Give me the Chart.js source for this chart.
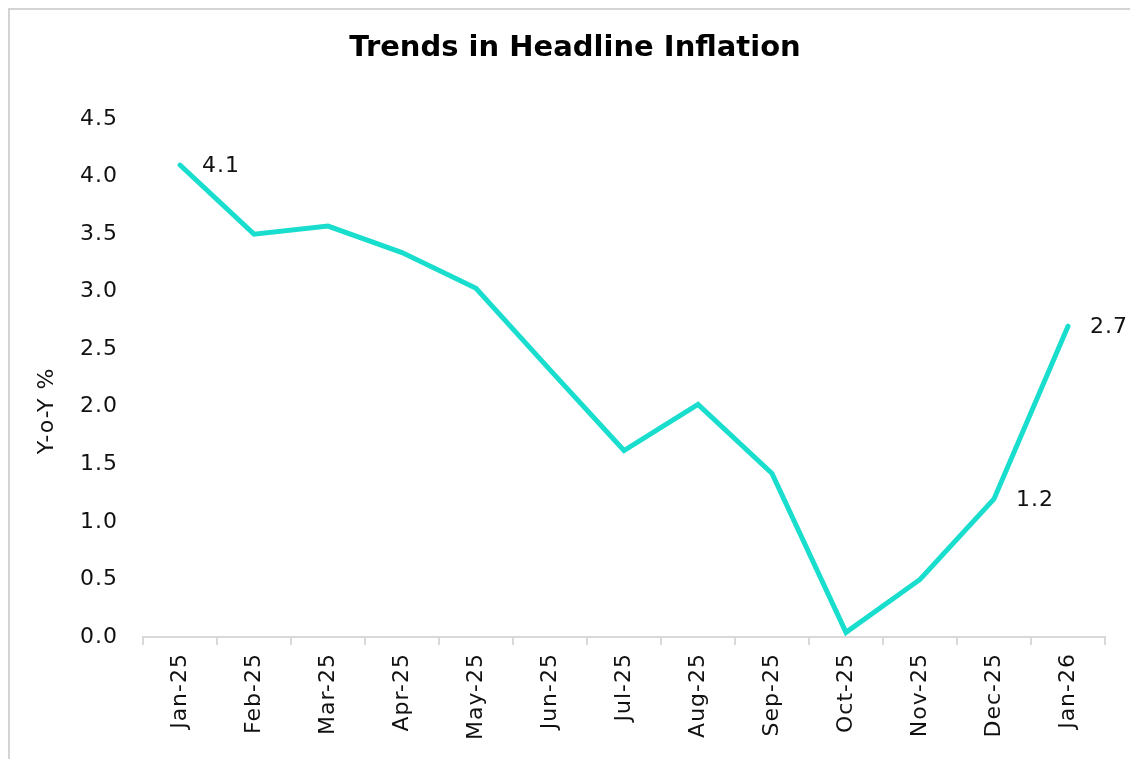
<!DOCTYPE html>
<html>
<head>
<meta charset="utf-8">
<script src="https://cdn.jsdelivr.net/npm/chart.js@4"></script>
<style>
  html, body { margin: 0; padding: 0; background: #fff; }
  #wrap { width: 1130px; height: 759px; position: relative; }
</style>
</head>
<body>
<div id="wrap"><canvas id="inflationChart"></canvas></div>
<script>
// headline inflation, y-o-y %
const months = ["Jan-25", "Feb-25", "Mar-25", "Apr-25", "May-25", "Jun-25", "Jul-25",
                "Aug-25", "Sep-25", "Oct-25", "Nov-25", "Dec-25", "Jan-26"];
const inflation = [4.1, 3.5, 3.57, 3.34, 3.03, 2.32, 1.62, 2.02, 1.42, 0.04, 0.5, 1.2, 2.7];
const labelledMonths = ["Jan-25", "Dec-25", "Jan-26"];
const yTicks = [0, 0.5, 1, 1.5, 2, 2.5, 3, 3.5, 4, 4.5];

const FONT = "'DejaVu Sans', 'Noto Sans', sans-serif";

// outer frame line + a little letter spacing for axis text
const framePlugin = {
    id: "frame",
    beforeDraw(chart) {
        const c = chart.ctx;
        c.letterSpacing = "1px";
        c.save();
        c.strokeStyle = "#d4d4d4";
        c.lineWidth = 2;
        c.strokeRect(9, 9, chart.width + 20, chart.height + 20);
        c.restore();
    }
};

// chart title and y axis title
const titles = {
    id: "titles",
    afterDraw(chart) {
        const c = chart.ctx;
        c.save();
        c.letterSpacing = "0px";
        c.font = "bold 29px " + FONT;
        c.fillStyle = "#000";
        c.textAlign = "center";
        c.textBaseline = "middle";
        c.fillText("Trends in Headline Inflation", 575, 48);

        c.letterSpacing = "1px";
        c.translate(47, 411);
        c.rotate(-Math.PI / 2);
        c.font = "22px " + FONT;
        c.fillStyle = "#111";
        c.fillText("Y-o-Y %", 0, 0);
        c.restore();
    }
};

// value labels to the right of selected points
const pointLabels = {
    id: "pointLabels",
    afterDatasetsDraw(chart) {
        const c = chart.ctx;
        const meta = chart.getDatasetMeta(0);
        c.save();
        c.font = "22px " + FONT;
        c.fillStyle = "#111";
        c.textAlign = "left";
        c.textBaseline = "middle";
        meta.data.forEach((pt, i) => {
            if (!labelledMonths.includes(months[i])) return;
            c.fillText(inflation[i].toFixed(1), pt.x + 22, pt.y + 1);
        });
        c.restore();
    }
};

new Chart(document.getElementById("inflationChart"), {
    type: "line",
    data: {
        labels: months,
        datasets: [{
            data: inflation,
            borderColor: "#19DDCD",
            borderWidth: 5,
            borderCapStyle: "round",
            borderJoinStyle: "miter",
            pointRadius: 0,
            tension: 0,
            fill: false
        }]
    },
    options: {
        responsive: true,
        maintainAspectRatio: false,
        animation: false,
        layout: { padding: { left: 0, right: 25, top: 119, bottom: 0 } },
        plugins: {
            legend: { display: false },
            tooltip: { enabled: false },
            title: { display: false }
        },
        scales: {
            x: {
                offset: true,
                grid: {
                    offset: true,
                    drawOnChartArea: false,
                    drawTicks: true,
                    tickLength: 8,
                    color: "#d9d9d9",
                    lineWidth: 2
                },
                border: { display: true, color: "#d9d9d9", width: 2 },
                ticks: {
                    color: "#111",
                    font: { family: FONT, size: 22 },
                    minRotation: 90,
                    maxRotation: 90,
                    autoSkip: false,
                    padding: 8
                },
                afterFit(scale) { scale.height = 122; }
            },
            y: {
                min: 0,
                max: 4.5,
                afterBuildTicks(scale) { scale.ticks = yTicks.map(v => ({ value: v })); },
                grid: { display: false, drawTicks: false },
                border: { display: false },
                ticks: {
                    color: "#111",
                    font: { family: FONT, size: 22 },
                    padding: 25,
                    callback: v => Number(v).toFixed(1)
                },
                afterFit(scale) { scale.width = 143; }
            }
        }
    },
    plugins: [framePlugin, titles, pointLabels]
});
</script>
</body>
</html>
